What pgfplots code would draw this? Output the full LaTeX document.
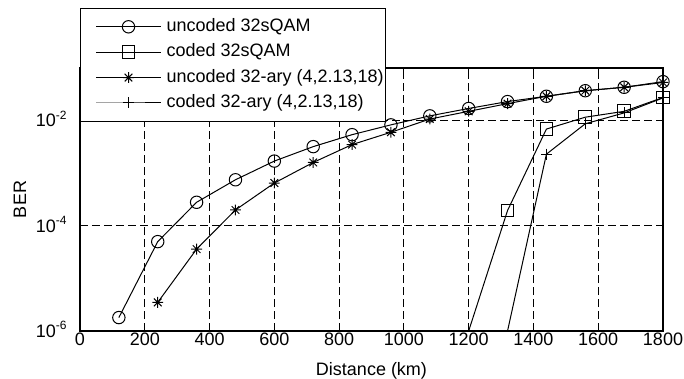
\documentclass[border=0pt]{standalone}
\usepackage{fontspec}
\setmainfont{Liberation Sans}
\usepackage{pgfplots}
\pgfplotsset{compat=1.18}
\pgfdeclareplotmark{mstar}{%
 \pgfpathmoveto{\pgfqpoint{-\pgfplotmarksize}{0pt}}\pgfpathlineto{\pgfqpoint{\pgfplotmarksize}{0pt}}%
 \pgfpathmoveto{\pgfqpoint{0pt}{-\pgfplotmarksize}}\pgfpathlineto{\pgfqpoint{0pt}{\pgfplotmarksize}}%
 \pgfpathmoveto{\pgfqpoint{-0.707\pgfplotmarksize}{-0.707\pgfplotmarksize}}\pgfpathlineto{\pgfqpoint{0.707\pgfplotmarksize}{0.707\pgfplotmarksize}}%
 \pgfpathmoveto{\pgfqpoint{-0.707\pgfplotmarksize}{0.707\pgfplotmarksize}}\pgfpathlineto{\pgfqpoint{0.707\pgfplotmarksize}{-0.707\pgfplotmarksize}}%
 \pgfusepathqstroke}
\newcommand\lf{\fontsize{9}{10.8}\selectfont}
\begin{document}
\lf
\begin{tikzpicture}
\begin{axis}[name=ax, scale only axis, width=291.5pt, height=131.5pt,
  ymode=log, xmin=0, xmax=1800, ymin=1e-6, ymax=1e-1,
  xtick={0,200,...,1800},
  xticklabels={0,200,400,600,800,1000,1200,1400,1600,1800},
  ytick={1e-6,1e-4,1e-2},
  yticklabels={10\textsuperscript{-6},10\textsuperscript{-4},10\textsuperscript{-2}},
  minor ytick={}, 
  grid=major,
  major grid style={black, line width=0.4pt, dash pattern=on 3.8pt off 2.2pt},
  axis line style={line width=0.6pt},
  tick style={black, line width=0.5pt},
  tick align=inside, major tick length=2.5pt,
  xticklabel style={font=\lf, anchor=base, inner sep=0pt, yshift=-7pt},
  yticklabel style={font=\lf, anchor=base east, inner sep=0pt, xshift=-6pt, yshift=-3.2pt},
  xlabel={Distance (km)}, ylabel={BER},
  every axis x label/.style={at={(axis description cs:0.5,0)}, anchor=base, inner sep=0pt, yshift=-22pt, font=\lf},
  every axis y label/.style={at={(axis description cs:-0.1029,0.5)}, rotate=90, anchor=center, inner sep=0pt, font=\lf},
  every axis plot/.append style={black, line width=0.5pt},
  legend image code/.code={\path (0pt,0pt); \draw[#1, mark indices={2}] plot coordinates {(6.5pt,0pt)(22.75pt,0pt)(39pt,0pt)};},
  legend style={at={(0,1)}, anchor=north west, yshift=30pt, draw=black, line width=0.5pt, fill=white,
    font=\lf, inner xsep=1pt, inner ysep=5pt, row sep=4.4pt,
    nodes={inner sep=0pt, text height=6.5pt, text depth=1.8pt},
    /tikz/column 1/.style={column sep=2.5pt}},
  legend cell align=left,
]
\addplot[mark=o, mark size=3.1pt, mark options={solid}] coordinates {
 (120,1.8e-6) (240,5.0e-5) (360,2.8e-4) (480,7.5e-4) (600,1.7e-3) (720,3.2e-3)
 (840,5.4e-3) (960,8.3e-3) (1080,1.23e-2) (1200,1.7e-2) (1320,2.3e-2) (1440,2.9e-2)
 (1560,3.7e-2) (1680,4.3e-2) (1800,5.5e-2)};
\addlegendentry{uncoded 32sQAM}
\addplot[mark=square, mark size=3.2pt, mark options={solid}, mark indices={2,3,4,5,6}] coordinates {
 (1200,1.0e-6) (1320,1.95e-4) (1440,6.9e-3) (1560,1.16e-2) (1680,1.5e-2) (1800,2.75e-2)};
\addlegendentry{coded 32sQAM}
\addplot[mark=mstar, mark size=2.7pt, mark options={solid}] coordinates {
 (240,3.5e-6) (360,3.6e-5) (480,2.0e-4) (600,6.5e-4) (720,1.6e-3) (840,3.5e-3)
 (960,6.0e-3) (1080,1.07e-2) (1200,1.5e-2) (1320,2.1e-2) (1440,2.9e-2)
 (1560,3.7e-2) (1680,4.3e-2) (1800,5.3e-2)};
\addlegendentry{uncoded 32-ary (4,2.13,18)}
\addplot[mark=+, mark size=2.75pt, mark options={solid}, mark indices={2,3,4,5}] coordinates {
 (1320,1.0e-6) (1440,2.3e-3) (1560,8.7e-3) (1680,1.4e-2) (1800,2.7e-2)};
\addlegendentry{coded 32-ary (4,2.13,18)}
\end{axis}
\pgfresetboundingbox
\path[use as bounding box] ([shift={(-40pt,-24pt)}]ax.south west) rectangle ++(342pt,189.5pt);
\end{tikzpicture}
\end{document}
